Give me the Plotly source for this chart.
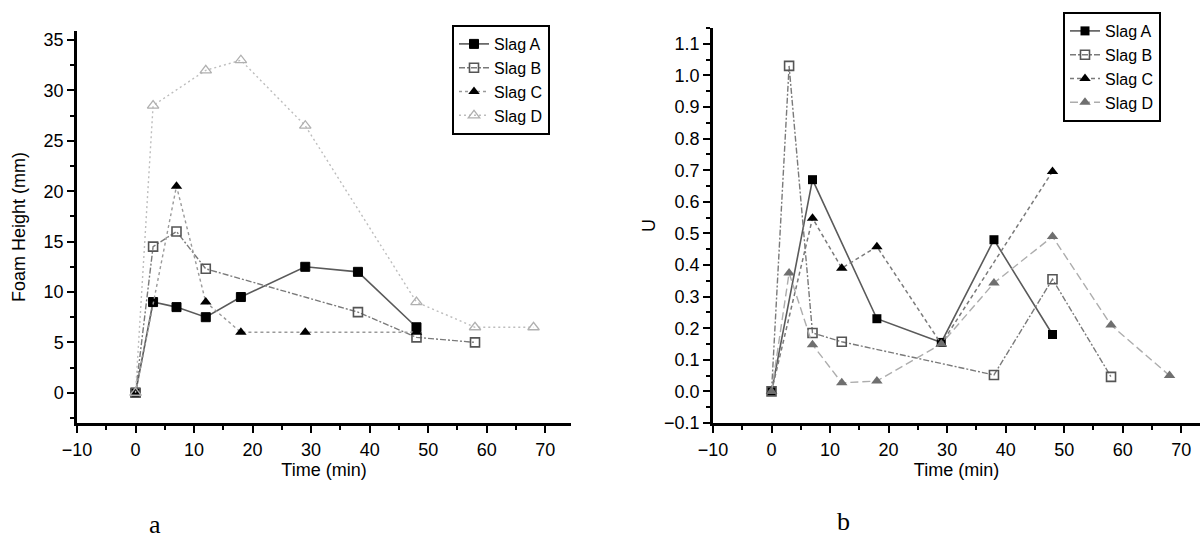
import plotly.graph_objects as go

# ---------- Data (panel a: Foam height) ----------
a_time_A = [0, 3, 7, 12, 18, 29, 38, 48]
a_foam_A = [0, 9.0, 8.5, 7.5, 9.5, 12.5, 12.0, 6.5]
a_time_B = [0, 3, 7, 12, 38, 48, 58]
a_foam_B = [0, 14.5, 16.0, 12.3, 8.0, 5.5, 5.0]
a_time_C = [0, 7, 12, 18, 29, 48]
a_foam_C = [0, 20.5, 9.0, 6.0, 6.0, 6.0]
a_time_D = [0, 3, 12, 18, 29, 48, 58, 68]
a_foam_D = [0, 28.5, 32.0, 33.0, 26.5, 9.0, 6.5, 6.5]

# ---------- Data (panel b: U) ----------
b_time_A = [0, 7, 18, 29, 38, 48]
b_u_A = [0, 0.67, 0.23, 0.155, 0.48, 0.18]
b_time_B = [0, 3, 7, 12, 38, 48, 58]
b_u_B = [0, 1.03, 0.185, 0.157, 0.052, 0.355, 0.046]
b_time_C = [0, 7, 12, 18, 29, 48]
b_u_C = [0, 0.548, 0.39, 0.458, 0.15, 0.696]
b_time_D = [0, 3, 7, 12, 18, 29, 38, 48, 58, 68]
b_u_D = [0, 0.375, 0.148, 0.027, 0.033, 0.15, 0.343, 0.49, 0.21, 0.05]

series_names = ["Slag A", "Slag B", "Slag C", "Slag D"]

W, H = 1202, 554
FONT = "Liberation Sans, Arial, sans-serif"
SERIF = "Liberation Serif, Times New Roman, serif"

fig = go.Figure()

def px_x(p):
    return p / W

def px_y(p):
    return 1 - p / H

styles_a = [
    dict(line=dict(color="#5a5a5a", width=1.6, dash="solid"),
         marker=dict(symbol="square", size=9, color="black", line=dict(color="black", width=1))),
    dict(line=dict(color="#7a7a7a", width=1.4, dash="6px,2px,2px,2px"),
         marker=dict(symbol="square-open", size=9, color="#555555", line=dict(width=1.6))),
    dict(line=dict(color="#9a9a9a", width=1.4, dash="3px,3px"),
         marker=dict(symbol="triangle-up", size=10, color="black")),
    dict(line=dict(color="#bdbdbd", width=1.4, dash="2px,3px"),
         marker=dict(symbol="triangle-up-open", size=10, color="#b0b0b0", line=dict(width=1.3))),
]
styles_b = [
    dict(line=dict(color="#5a5a5a", width=1.6, dash="solid"),
         marker=dict(symbol="square", size=9, color="black")),
    dict(line=dict(color="#7a7a7a", width=1.4, dash="6px,2px,2px,2px"),
         marker=dict(symbol="square-open", size=9, color="#555555", line=dict(width=1.6))),
    dict(line=dict(color="#7a7a7a", width=1.5, dash="4px,3px"),
         marker=dict(symbol="triangle-up", size=10, color="black")),
    dict(line=dict(color="#adadad", width=1.4, dash="8px,4px"),
         marker=dict(symbol="triangle-up", size=10, color="#6f6f6f")),
]

a_data = [(a_time_A, a_foam_A), (a_time_B, a_foam_B), (a_time_C, a_foam_C), (a_time_D, a_foam_D)]
b_data = [(b_time_A, b_u_A), (b_time_B, b_u_B), (b_time_C, b_u_C), (b_time_D, b_u_D)]

for name, (xs, ys), st in zip(series_names, a_data, styles_a):
    fig.add_trace(go.Scatter(x=xs, y=ys, mode="lines+markers", name=name,
                             xaxis="x", yaxis="y", legend="legend", **st))
for name, (xs, ys), st in zip(series_names, b_data, styles_b):
    fig.add_trace(go.Scatter(x=xs, y=ys, mode="lines+markers", name=name,
                             xaxis="x2", yaxis="y2", legend="legend2", **st))

axis_common = dict(
    showline=True, linecolor="black", linewidth=2.5, mirror=False,
    ticks="outside", ticklen=7, tickwidth=2, tickcolor="black",
    showgrid=False, zeroline=False, automargin=False,
    tickfont=dict(family=FONT, size=18, color="black"),
    title_font=dict(family=FONT, size=18, color="black"),
)
minor_style = dict(ticks="outside", ticklen=4, tickwidth=2, tickcolor="black")
legend_common = dict(xanchor="left", yanchor="top",
                     bordercolor="black", borderwidth=2, bgcolor="white",
                     font=dict(family=FONT, size=16, color="black"),
                     tracegroupgap=0, itemwidth=30)

fig.update_layout(
    width=W, height=H,
    margin=dict(l=0, r=0, t=0, b=0, autoexpand=False),
    paper_bgcolor="white", plot_bgcolor="white",
    font=dict(family=FONT, size=16, color="black"),
    xaxis=dict(domain=[px_x(77), px_x(571)], range=[-10, 74.4], dtick=10, anchor="y",
               minor=dict(dtick=5, **minor_style), ticklabelstandoff=2,
               title=dict(text="Time (min)", standoff=0), **axis_common),
    yaxis=dict(domain=[px_y(423), px_y(31)], range=[-3, 35.9], dtick=5, anchor="x",
               minor=dict(dtick=2.5, **minor_style),
               title=dict(text="Foam Height (mm)", standoff=14), **axis_common),
    xaxis2=dict(domain=[px_x(713), px_x(1200)], range=[-10, 73.2], dtick=10, anchor="y2",
                minor=dict(dtick=5, **minor_style), ticklabelstandoff=2,
                title=dict(text="Time (min)", standoff=4), **axis_common),
    yaxis2=dict(domain=[px_y(423), px_y(28)], range=[-0.1, 1.15], dtick=0.1, tickformat=".1f",
                anchor="x2",
                minor=dict(dtick=0.05, **minor_style),
                title=dict(text="U", standoff=4), **axis_common),
    legend=dict(x=px_x(452), y=px_y(25), **legend_common),
    legend2=dict(x=px_x(1063), y=px_y(12), **legend_common),
    showlegend=True,
    annotations=[
        dict(text="a", x=px_x(155), y=px_y(524), xref="paper", yref="paper",
             xanchor="center", yanchor="middle",
             showarrow=False, font=dict(family=SERIF, size=26, color="black")),
        dict(text="b", x=px_x(843), y=px_y(521), xref="paper", yref="paper",
             xanchor="center", yanchor="middle",
             showarrow=False, font=dict(family=SERIF, size=26, color="black")),
    ],
)

fig.write_html("out.html")
